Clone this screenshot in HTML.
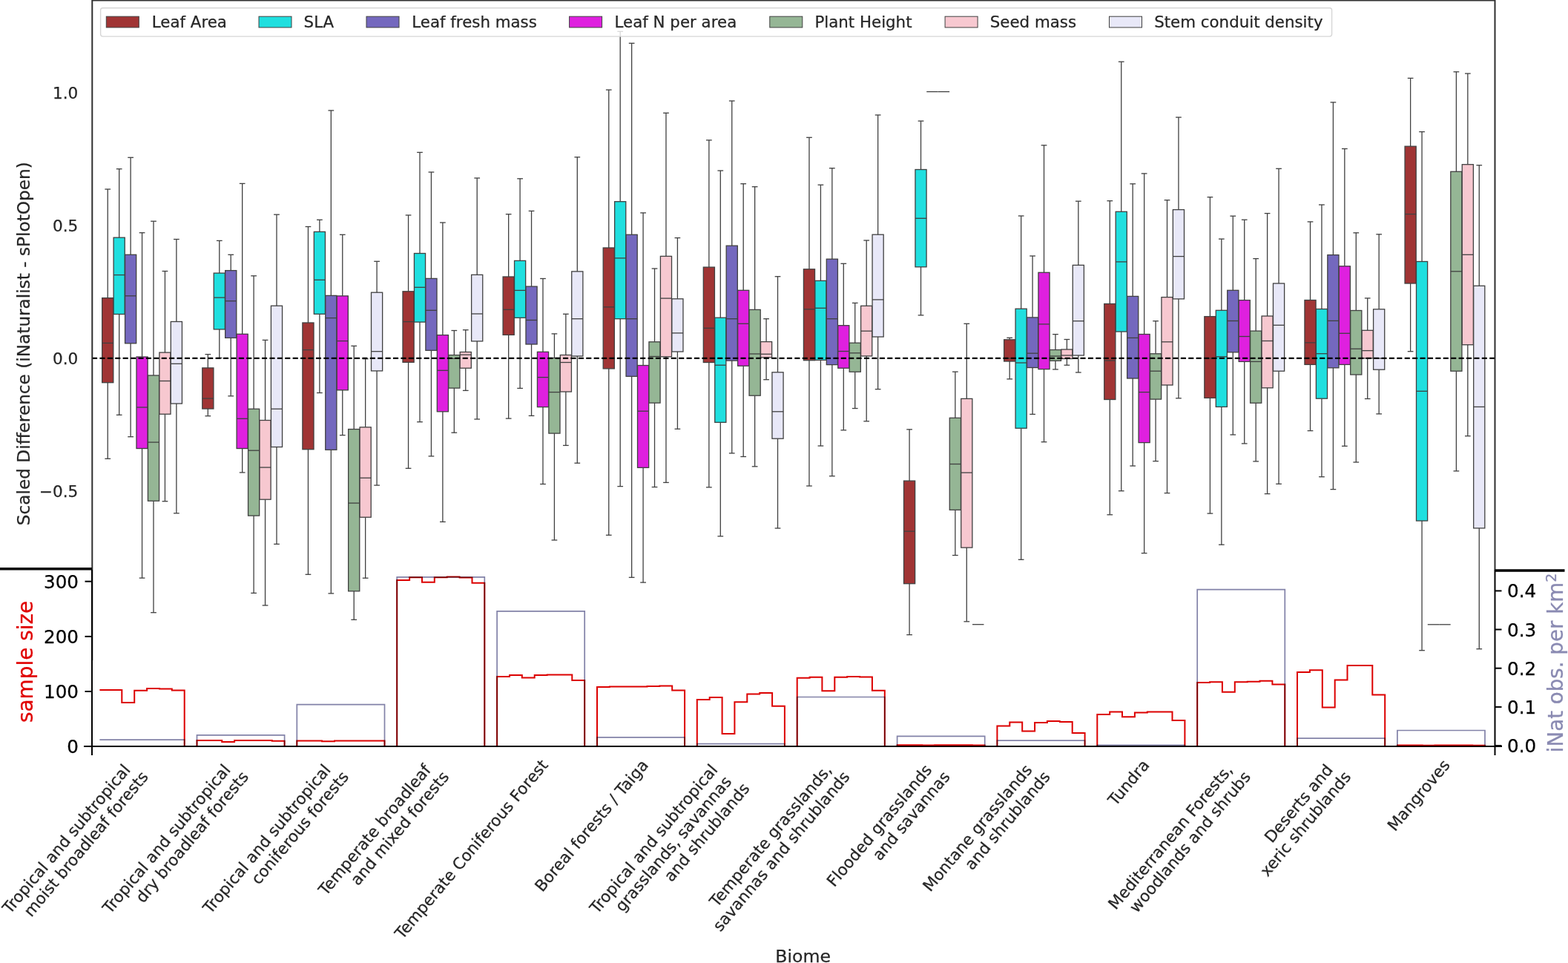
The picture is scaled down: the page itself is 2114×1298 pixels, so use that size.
<!DOCTYPE html>
<html><head><meta charset="utf-8"><title>Scaled Difference by Biome</title>
<style>html,body{margin:0;padding:0;background:#fff;} svg{display:block;} text{stroke-width:0.25px;}</style>
</head><body>
<svg width="2114" height="1298" viewBox="0 0 2114 1298">
<rect x="0" y="0" width="2114" height="1298" fill="#ffffff"/>
<path d="M134.4,930.0 L147.5,930.0 L147.5,930.0 L164.3,930.0 L164.3,947.0 L181.2,947.0 L181.2,930.8 L198.1,930.8 L198.1,927.9 L215.0,927.9 L215.0,928.5 L231.8,928.5 L231.8,930.6 L248.7,930.6 L248.7,1006.0 L265.5,1006.0 L265.5,998.0 L282.3,998.0 L282.3,998.0 L299.2,998.0 L299.2,1000.0 L316.1,1000.0 L316.1,998.0 L333.0,998.0 L333.0,998.0 L349.8,998.0 L349.8,998.0 L366.7,998.0 L366.7,998.7 L383.6,998.7 L383.6,1006.0 L400.3,1006.0 L400.3,998.4 L417.2,998.4 L417.2,998.4 L434.1,998.4 L434.1,999.3 L451.0,999.3 L451.0,998.4 L467.8,998.4 L467.8,998.4 L484.7,998.4 L484.7,998.4 L501.6,998.4 L501.6,998.4 L518.5,998.4 L518.5,1006.0 L535.2,1006.0 L535.2,782.1 L552.1,782.1 L552.1,778.2 L569.0,778.2 L569.0,784.8 L585.8,784.8 L585.8,778.2 L602.7,778.2 L602.7,777.6 L619.6,777.6 L619.6,778.6 L636.5,778.6 L636.5,785.8 L653.3,785.8 L653.3,1006.0 L670.1,1006.0 L670.1,912.0 L687.0,912.0 L687.0,910.1 L703.8,910.1 L703.8,913.4 L720.7,913.4 L720.7,910.1 L737.6,910.1 L737.6,909.5 L754.5,909.5 L754.5,909.5 L771.3,909.5 L771.3,916.9 L788.2,916.9 L788.2,1006.0 L805.0,1006.0 L805.0,926.0 L821.8,926.0 L821.8,925.4 L838.7,925.4 L838.7,925.6 L855.6,925.6 L855.6,925.6 L872.5,925.6 L872.5,925.0 L889.3,925.0 L889.3,924.6 L906.2,924.6 L906.2,930.4 L923.1,930.4 L923.1,1006.0 L939.8,1006.0 L939.8,943.0 L956.7,943.0 L956.7,939.9 L973.6,939.9 L973.6,989.0 L990.4,989.0 L990.4,946.3 L1007.3,946.3 L1007.3,935.6 L1024.2,935.6 L1024.2,934.1 L1041.1,934.1 L1041.1,951.7 L1057.9,951.7 L1057.9,1006.0 L1074.7,1006.0 L1074.7,913.7 L1091.6,913.7 L1091.6,912.8 L1108.4,912.8 L1108.4,931.2 L1125.3,931.2 L1125.3,912.8 L1142.2,912.8 L1142.2,912.0 L1159.1,912.0 L1159.1,912.4 L1175.9,912.4 L1175.9,930.8 L1192.8,930.8 L1192.8,1006.0 L1209.6,1006.0 L1209.6,1004.3 L1226.4,1004.3 L1226.4,1004.3 L1243.3,1004.3 L1243.3,1004.6 L1260.2,1004.6 L1260.2,1004.3 L1277.1,1004.3 L1277.1,1004.3 L1293.9,1004.3 L1293.9,1004.3 L1310.8,1004.3 L1310.8,1004.5 L1327.7,1004.5 L1327.7,1006.0 L1344.4,1006.0 L1344.4,978.4 L1361.3,978.4 L1361.3,973.4 L1378.2,973.4 L1378.2,985.6 L1395.1,985.6 L1395.1,974.0 L1411.9,974.0 L1411.9,972.0 L1428.8,972.0 L1428.8,973.0 L1445.7,973.0 L1445.7,987.9 L1462.6,987.9 L1462.6,1006.0 L1479.3,1006.0 L1479.3,962.9 L1496.2,962.9 L1496.2,959.4 L1513.0,959.4 L1513.0,966.2 L1529.9,966.2 L1529.9,960.4 L1546.8,960.4 L1546.8,959.4 L1563.7,959.4 L1563.7,959.4 L1580.5,959.4 L1580.5,971.0 L1597.4,971.0 L1597.4,1006.0 L1614.2,1006.0 L1614.2,920.0 L1631.0,920.0 L1631.0,919.3 L1647.9,919.3 L1647.9,932.8 L1664.8,932.8 L1664.8,919.3 L1681.7,919.3 L1681.7,918.7 L1698.5,918.7 L1698.5,917.7 L1715.4,917.7 L1715.4,922.6 L1732.3,922.6 L1732.3,1006.0 L1749.0,1006.0 L1749.0,905.9 L1765.9,905.9 L1765.9,903.2 L1782.8,903.2 L1782.8,953.4 L1799.7,953.4 L1799.7,916.6 L1816.5,916.6 L1816.5,897.0 L1833.4,897.0 L1833.4,897.0 L1850.3,897.0 L1850.3,936.5 L1867.2,936.5 L1867.2,1006.0 L1883.9,1006.0 L1883.9,1004.5 L1900.8,1004.5 L1900.8,1004.5 L1917.7,1004.5 L1917.7,1004.8 L1934.5,1004.8 L1934.5,1004.5 L1951.4,1004.5 L1951.4,1004.5 L1968.3,1004.5 L1968.3,1004.5 L1985.2,1004.5 L1985.2,1004.7 L2002.0,1004.7 L2002.0,1006.0 L2015.5,1006.0" fill="none" stroke="#dc0000" stroke-width="2" stroke-linejoin="miter"/>
<path d="M134.4,997.1 L248.7,997.1 L248.7,1006.0 L265.5,1006.0 L265.5,990.8 L383.6,990.8 L383.6,1006.0 L400.3,1006.0 L400.3,949.7 L518.5,949.7 L518.5,1006.0 L535.2,1006.0 L535.2,777.8 L653.3,777.8 L653.3,1006.0 L670.1,1006.0 L670.1,823.8 L788.2,823.8 L788.2,1006.0 L805.0,1006.0 L805.0,993.9 L923.1,993.9 L923.1,1006.0 L939.8,1006.0 L939.8,1002.6 L1057.9,1002.6 L1057.9,1006.0 L1074.7,1006.0 L1074.7,939.5 L1192.8,939.5 L1192.8,1006.0 L1209.6,1006.0 L1209.6,992.3 L1327.7,992.3 L1327.7,1006.0 L1344.4,1006.0 L1344.4,998.2 L1462.6,998.2 L1462.6,1006.0 L1479.3,1006.0 L1479.3,1004.4 L1597.4,1004.4 L1597.4,1006.0 L1614.2,1006.0 L1614.2,794.6 L1732.3,794.6 L1732.3,1006.0 L1749.0,1006.0 L1749.0,995.1 L1867.2,995.1 L1867.2,1006.0 L1883.9,1006.0 L1883.9,984.5 L2002.0,984.5 L2002.0,1006.0 L2015.5,1006.0" fill="none" stroke="#8282a8" stroke-width="1.7" style="mix-blend-mode:multiply" stroke-linejoin="miter"/>
<line x1="145.23" y1="255.0" x2="145.23" y2="401.6" stroke="#404040" stroke-width="1.3"/>
<line x1="145.23" y1="515.7" x2="145.23" y2="618.3" stroke="#404040" stroke-width="1.3"/>
<line x1="141.37" y1="255.0" x2="149.09" y2="255.0" stroke="#404040" stroke-width="1.3"/>
<line x1="141.37" y1="618.3" x2="149.09" y2="618.3" stroke="#404040" stroke-width="1.3"/>
<rect x="137.67" y="401.6" width="15.13" height="114.10" fill="#a03434" stroke="#404040" stroke-width="1.3"/>
<line x1="137.67" y1="462.4" x2="152.80" y2="462.4" stroke="#404040" stroke-width="1.3"/>
<line x1="160.67" y1="227.7" x2="160.67" y2="320.2" stroke="#404040" stroke-width="1.3"/>
<line x1="160.67" y1="423.5" x2="160.67" y2="559.3" stroke="#404040" stroke-width="1.3"/>
<line x1="156.81" y1="227.7" x2="164.53" y2="227.7" stroke="#404040" stroke-width="1.3"/>
<line x1="156.81" y1="559.3" x2="164.53" y2="559.3" stroke="#404040" stroke-width="1.3"/>
<rect x="153.11" y="320.2" width="15.13" height="103.30" fill="#20dfdf" stroke="#404040" stroke-width="1.3"/>
<line x1="153.11" y1="370.6" x2="168.24" y2="370.6" stroke="#404040" stroke-width="1.3"/>
<line x1="176.11" y1="212.3" x2="176.11" y2="343.3" stroke="#404040" stroke-width="1.3"/>
<line x1="176.11" y1="462.8" x2="176.11" y2="588.7" stroke="#404040" stroke-width="1.3"/>
<line x1="172.25" y1="212.3" x2="179.97" y2="212.3" stroke="#404040" stroke-width="1.3"/>
<line x1="172.25" y1="588.7" x2="179.97" y2="588.7" stroke="#404040" stroke-width="1.3"/>
<rect x="168.55" y="343.3" width="15.13" height="119.50" fill="#7468be" stroke="#404040" stroke-width="1.3"/>
<line x1="168.55" y1="398.8" x2="183.68" y2="398.8" stroke="#404040" stroke-width="1.3"/>
<line x1="191.55" y1="313.7" x2="191.55" y2="481.0" stroke="#404040" stroke-width="1.3"/>
<line x1="191.55" y1="604.5" x2="191.55" y2="779.1" stroke="#404040" stroke-width="1.3"/>
<line x1="187.69" y1="313.7" x2="195.41" y2="313.7" stroke="#404040" stroke-width="1.3"/>
<line x1="187.69" y1="779.1" x2="195.41" y2="779.1" stroke="#404040" stroke-width="1.3"/>
<rect x="183.99" y="481.0" width="15.13" height="123.50" fill="#df20df" stroke="#404040" stroke-width="1.3"/>
<line x1="183.99" y1="549.0" x2="199.12" y2="549.0" stroke="#404040" stroke-width="1.3"/>
<line x1="206.99" y1="298.2" x2="206.99" y2="506.0" stroke="#404040" stroke-width="1.3"/>
<line x1="206.99" y1="675.2" x2="206.99" y2="825.7" stroke="#404040" stroke-width="1.3"/>
<line x1="203.13" y1="298.2" x2="210.85" y2="298.2" stroke="#404040" stroke-width="1.3"/>
<line x1="203.13" y1="825.7" x2="210.85" y2="825.7" stroke="#404040" stroke-width="1.3"/>
<rect x="199.43" y="506.0" width="15.13" height="169.20" fill="#95b695" stroke="#404040" stroke-width="1.3"/>
<line x1="199.43" y1="596.1" x2="214.56" y2="596.1" stroke="#404040" stroke-width="1.3"/>
<line x1="222.44" y1="365.5" x2="222.44" y2="475.1" stroke="#404040" stroke-width="1.3"/>
<line x1="222.44" y1="558.2" x2="222.44" y2="675.7" stroke="#404040" stroke-width="1.3"/>
<line x1="218.58" y1="365.5" x2="226.30" y2="365.5" stroke="#404040" stroke-width="1.3"/>
<line x1="218.58" y1="675.7" x2="226.30" y2="675.7" stroke="#404040" stroke-width="1.3"/>
<rect x="214.87" y="475.1" width="15.13" height="83.10" fill="#f7c8d0" stroke="#404040" stroke-width="1.3"/>
<line x1="214.87" y1="513.5" x2="230.00" y2="513.5" stroke="#404040" stroke-width="1.3"/>
<line x1="237.88" y1="322.5" x2="237.88" y2="433.5" stroke="#404040" stroke-width="1.3"/>
<line x1="237.88" y1="544.0" x2="237.88" y2="691.8" stroke="#404040" stroke-width="1.3"/>
<line x1="234.02" y1="322.5" x2="241.74" y2="322.5" stroke="#404040" stroke-width="1.3"/>
<line x1="234.02" y1="691.8" x2="241.74" y2="691.8" stroke="#404040" stroke-width="1.3"/>
<rect x="230.31" y="433.5" width="15.13" height="110.50" fill="#e8e8f8" stroke="#404040" stroke-width="1.3"/>
<line x1="230.31" y1="490.3" x2="245.44" y2="490.3" stroke="#404040" stroke-width="1.3"/>
<line x1="280.34" y1="477.6" x2="280.34" y2="495.9" stroke="#404040" stroke-width="1.3"/>
<line x1="280.34" y1="551.0" x2="280.34" y2="560.7" stroke="#404040" stroke-width="1.3"/>
<line x1="276.48" y1="477.6" x2="284.20" y2="477.6" stroke="#404040" stroke-width="1.3"/>
<line x1="276.48" y1="560.7" x2="284.20" y2="560.7" stroke="#404040" stroke-width="1.3"/>
<rect x="272.77" y="495.9" width="15.13" height="55.10" fill="#a03434" stroke="#404040" stroke-width="1.3"/>
<line x1="272.77" y1="537.1" x2="287.90" y2="537.1" stroke="#404040" stroke-width="1.3"/>
<line x1="295.78" y1="324.4" x2="295.78" y2="368.1" stroke="#404040" stroke-width="1.3"/>
<line x1="295.78" y1="443.9" x2="295.78" y2="482.5" stroke="#404040" stroke-width="1.3"/>
<line x1="291.92" y1="324.4" x2="299.64" y2="324.4" stroke="#404040" stroke-width="1.3"/>
<line x1="291.92" y1="482.5" x2="299.64" y2="482.5" stroke="#404040" stroke-width="1.3"/>
<rect x="288.21" y="368.1" width="15.13" height="75.80" fill="#20dfdf" stroke="#404040" stroke-width="1.3"/>
<line x1="288.21" y1="401.1" x2="303.35" y2="401.1" stroke="#404040" stroke-width="1.3"/>
<line x1="311.22" y1="343.3" x2="311.22" y2="364.6" stroke="#404040" stroke-width="1.3"/>
<line x1="311.22" y1="455.4" x2="311.22" y2="533.8" stroke="#404040" stroke-width="1.3"/>
<line x1="307.36" y1="343.3" x2="315.08" y2="343.3" stroke="#404040" stroke-width="1.3"/>
<line x1="307.36" y1="533.8" x2="315.08" y2="533.8" stroke="#404040" stroke-width="1.3"/>
<rect x="303.65" y="364.6" width="15.13" height="90.80" fill="#7468be" stroke="#404040" stroke-width="1.3"/>
<line x1="303.65" y1="405.7" x2="318.79" y2="405.7" stroke="#404040" stroke-width="1.3"/>
<line x1="326.66" y1="247.4" x2="326.66" y2="450.3" stroke="#404040" stroke-width="1.3"/>
<line x1="326.66" y1="604.5" x2="326.66" y2="636.9" stroke="#404040" stroke-width="1.3"/>
<line x1="322.80" y1="247.4" x2="330.52" y2="247.4" stroke="#404040" stroke-width="1.3"/>
<line x1="322.80" y1="636.9" x2="330.52" y2="636.9" stroke="#404040" stroke-width="1.3"/>
<rect x="319.09" y="450.3" width="15.13" height="154.20" fill="#df20df" stroke="#404040" stroke-width="1.3"/>
<line x1="319.09" y1="564.3" x2="334.23" y2="564.3" stroke="#404040" stroke-width="1.3"/>
<line x1="342.10" y1="371.8" x2="342.10" y2="551.2" stroke="#404040" stroke-width="1.3"/>
<line x1="342.10" y1="695.1" x2="342.10" y2="799.4" stroke="#404040" stroke-width="1.3"/>
<line x1="338.24" y1="371.8" x2="345.96" y2="371.8" stroke="#404040" stroke-width="1.3"/>
<line x1="338.24" y1="799.4" x2="345.96" y2="799.4" stroke="#404040" stroke-width="1.3"/>
<rect x="334.54" y="551.2" width="15.13" height="143.90" fill="#95b695" stroke="#404040" stroke-width="1.3"/>
<line x1="334.54" y1="607.2" x2="349.67" y2="607.2" stroke="#404040" stroke-width="1.3"/>
<line x1="357.54" y1="458.4" x2="357.54" y2="566.5" stroke="#404040" stroke-width="1.3"/>
<line x1="357.54" y1="673.2" x2="357.54" y2="816.0" stroke="#404040" stroke-width="1.3"/>
<line x1="353.68" y1="458.4" x2="361.40" y2="458.4" stroke="#404040" stroke-width="1.3"/>
<line x1="353.68" y1="816.0" x2="361.40" y2="816.0" stroke="#404040" stroke-width="1.3"/>
<rect x="349.98" y="566.5" width="15.13" height="106.70" fill="#f7c8d0" stroke="#404040" stroke-width="1.3"/>
<line x1="349.98" y1="630.0" x2="365.11" y2="630.0" stroke="#404040" stroke-width="1.3"/>
<line x1="372.98" y1="289.2" x2="372.98" y2="412.2" stroke="#404040" stroke-width="1.3"/>
<line x1="372.98" y1="602.5" x2="372.98" y2="733.4" stroke="#404040" stroke-width="1.3"/>
<line x1="369.12" y1="289.2" x2="376.84" y2="289.2" stroke="#404040" stroke-width="1.3"/>
<line x1="369.12" y1="733.4" x2="376.84" y2="733.4" stroke="#404040" stroke-width="1.3"/>
<rect x="365.42" y="412.2" width="15.13" height="190.30" fill="#e8e8f8" stroke="#404040" stroke-width="1.3"/>
<line x1="365.42" y1="551.2" x2="380.55" y2="551.2" stroke="#404040" stroke-width="1.3"/>
<line x1="415.45" y1="305.5" x2="415.45" y2="435.0" stroke="#404040" stroke-width="1.3"/>
<line x1="415.45" y1="605.7" x2="415.45" y2="774.3" stroke="#404040" stroke-width="1.3"/>
<line x1="411.59" y1="305.5" x2="419.31" y2="305.5" stroke="#404040" stroke-width="1.3"/>
<line x1="411.59" y1="774.3" x2="419.31" y2="774.3" stroke="#404040" stroke-width="1.3"/>
<rect x="407.88" y="435.0" width="15.13" height="170.70" fill="#a03434" stroke="#404040" stroke-width="1.3"/>
<line x1="407.88" y1="471.6" x2="423.01" y2="471.6" stroke="#404040" stroke-width="1.3"/>
<line x1="430.89" y1="296.3" x2="430.89" y2="312.4" stroke="#404040" stroke-width="1.3"/>
<line x1="430.89" y1="423.3" x2="430.89" y2="529.5" stroke="#404040" stroke-width="1.3"/>
<line x1="427.03" y1="296.3" x2="434.75" y2="296.3" stroke="#404040" stroke-width="1.3"/>
<line x1="427.03" y1="529.5" x2="434.75" y2="529.5" stroke="#404040" stroke-width="1.3"/>
<rect x="423.32" y="312.4" width="15.13" height="110.90" fill="#20dfdf" stroke="#404040" stroke-width="1.3"/>
<line x1="423.32" y1="377.3" x2="438.45" y2="377.3" stroke="#404040" stroke-width="1.3"/>
<line x1="446.33" y1="148.9" x2="446.33" y2="398.4" stroke="#404040" stroke-width="1.3"/>
<line x1="446.33" y1="606.3" x2="446.33" y2="799.9" stroke="#404040" stroke-width="1.3"/>
<line x1="442.47" y1="148.9" x2="450.19" y2="148.9" stroke="#404040" stroke-width="1.3"/>
<line x1="442.47" y1="799.9" x2="450.19" y2="799.9" stroke="#404040" stroke-width="1.3"/>
<rect x="438.76" y="398.4" width="15.13" height="207.90" fill="#7468be" stroke="#404040" stroke-width="1.3"/>
<line x1="438.76" y1="428.6" x2="453.89" y2="428.6" stroke="#404040" stroke-width="1.3"/>
<line x1="461.77" y1="316.3" x2="461.77" y2="398.9" stroke="#404040" stroke-width="1.3"/>
<line x1="461.77" y1="525.8" x2="461.77" y2="586.6" stroke="#404040" stroke-width="1.3"/>
<line x1="457.91" y1="316.3" x2="465.63" y2="316.3" stroke="#404040" stroke-width="1.3"/>
<line x1="457.91" y1="586.6" x2="465.63" y2="586.6" stroke="#404040" stroke-width="1.3"/>
<rect x="454.20" y="398.9" width="15.13" height="126.90" fill="#df20df" stroke="#404040" stroke-width="1.3"/>
<line x1="454.20" y1="459.6" x2="469.33" y2="459.6" stroke="#404040" stroke-width="1.3"/>
<line x1="477.21" y1="466.3" x2="477.21" y2="578.5" stroke="#404040" stroke-width="1.3"/>
<line x1="477.21" y1="796.8" x2="477.21" y2="835.3" stroke="#404040" stroke-width="1.3"/>
<line x1="473.35" y1="466.3" x2="481.07" y2="466.3" stroke="#404040" stroke-width="1.3"/>
<line x1="473.35" y1="835.3" x2="481.07" y2="835.3" stroke="#404040" stroke-width="1.3"/>
<rect x="469.64" y="578.5" width="15.13" height="218.30" fill="#95b695" stroke="#404040" stroke-width="1.3"/>
<line x1="469.64" y1="678.1" x2="484.77" y2="678.1" stroke="#404040" stroke-width="1.3"/>
<line x1="492.65" y1="483.7" x2="492.65" y2="575.8" stroke="#404040" stroke-width="1.3"/>
<line x1="492.65" y1="697.2" x2="492.65" y2="779.2" stroke="#404040" stroke-width="1.3"/>
<line x1="488.79" y1="483.7" x2="496.51" y2="483.7" stroke="#404040" stroke-width="1.3"/>
<line x1="488.79" y1="779.2" x2="496.51" y2="779.2" stroke="#404040" stroke-width="1.3"/>
<rect x="485.08" y="575.8" width="15.13" height="121.40" fill="#f7c8d0" stroke="#404040" stroke-width="1.3"/>
<line x1="485.08" y1="644.2" x2="500.22" y2="644.2" stroke="#404040" stroke-width="1.3"/>
<line x1="508.09" y1="352.3" x2="508.09" y2="394.2" stroke="#404040" stroke-width="1.3"/>
<line x1="508.09" y1="499.9" x2="508.09" y2="654.1" stroke="#404040" stroke-width="1.3"/>
<line x1="504.23" y1="352.3" x2="511.95" y2="352.3" stroke="#404040" stroke-width="1.3"/>
<line x1="504.23" y1="654.1" x2="511.95" y2="654.1" stroke="#404040" stroke-width="1.3"/>
<rect x="500.52" y="394.2" width="15.13" height="105.70" fill="#e8e8f8" stroke="#404040" stroke-width="1.3"/>
<line x1="500.52" y1="473.7" x2="515.66" y2="473.7" stroke="#404040" stroke-width="1.3"/>
<line x1="550.55" y1="290.0" x2="550.55" y2="392.8" stroke="#404040" stroke-width="1.3"/>
<line x1="550.55" y1="488.3" x2="550.55" y2="631.3" stroke="#404040" stroke-width="1.3"/>
<line x1="546.69" y1="290.0" x2="554.41" y2="290.0" stroke="#404040" stroke-width="1.3"/>
<line x1="546.69" y1="631.3" x2="554.41" y2="631.3" stroke="#404040" stroke-width="1.3"/>
<rect x="542.99" y="392.8" width="15.13" height="95.50" fill="#a03434" stroke="#404040" stroke-width="1.3"/>
<line x1="542.99" y1="433.6" x2="558.12" y2="433.6" stroke="#404040" stroke-width="1.3"/>
<line x1="565.99" y1="205.4" x2="565.99" y2="341.5" stroke="#404040" stroke-width="1.3"/>
<line x1="565.99" y1="434.1" x2="565.99" y2="568.7" stroke="#404040" stroke-width="1.3"/>
<line x1="562.13" y1="205.4" x2="569.85" y2="205.4" stroke="#404040" stroke-width="1.3"/>
<line x1="562.13" y1="568.7" x2="569.85" y2="568.7" stroke="#404040" stroke-width="1.3"/>
<rect x="558.43" y="341.5" width="15.13" height="92.60" fill="#20dfdf" stroke="#404040" stroke-width="1.3"/>
<line x1="558.43" y1="387.3" x2="573.56" y2="387.3" stroke="#404040" stroke-width="1.3"/>
<line x1="581.43" y1="232.0" x2="581.43" y2="375.4" stroke="#404040" stroke-width="1.3"/>
<line x1="581.43" y1="472.3" x2="581.43" y2="614.9" stroke="#404040" stroke-width="1.3"/>
<line x1="577.57" y1="232.0" x2="585.29" y2="232.0" stroke="#404040" stroke-width="1.3"/>
<line x1="577.57" y1="614.9" x2="585.29" y2="614.9" stroke="#404040" stroke-width="1.3"/>
<rect x="573.87" y="375.4" width="15.13" height="96.90" fill="#7468be" stroke="#404040" stroke-width="1.3"/>
<line x1="573.87" y1="418.3" x2="589.00" y2="418.3" stroke="#404040" stroke-width="1.3"/>
<line x1="596.88" y1="300.0" x2="596.88" y2="451.6" stroke="#404040" stroke-width="1.3"/>
<line x1="596.88" y1="554.8" x2="596.88" y2="703.4" stroke="#404040" stroke-width="1.3"/>
<line x1="593.01" y1="300.0" x2="600.74" y2="300.0" stroke="#404040" stroke-width="1.3"/>
<line x1="593.01" y1="703.4" x2="600.74" y2="703.4" stroke="#404040" stroke-width="1.3"/>
<rect x="589.31" y="451.6" width="15.13" height="103.20" fill="#df20df" stroke="#404040" stroke-width="1.3"/>
<line x1="589.31" y1="499.3" x2="604.44" y2="499.3" stroke="#404040" stroke-width="1.3"/>
<line x1="612.32" y1="445.5" x2="612.32" y2="478.6" stroke="#404040" stroke-width="1.3"/>
<line x1="612.32" y1="523.1" x2="612.32" y2="583.2" stroke="#404040" stroke-width="1.3"/>
<line x1="608.46" y1="445.5" x2="616.18" y2="445.5" stroke="#404040" stroke-width="1.3"/>
<line x1="608.46" y1="583.2" x2="616.18" y2="583.2" stroke="#404040" stroke-width="1.3"/>
<rect x="604.75" y="478.6" width="15.13" height="44.50" fill="#95b695" stroke="#404040" stroke-width="1.3"/>
<line x1="604.75" y1="483.3" x2="619.88" y2="483.3" stroke="#404040" stroke-width="1.3"/>
<line x1="627.76" y1="444.7" x2="627.76" y2="474.5" stroke="#404040" stroke-width="1.3"/>
<line x1="627.76" y1="496.2" x2="627.76" y2="526.4" stroke="#404040" stroke-width="1.3"/>
<line x1="623.90" y1="444.7" x2="631.62" y2="444.7" stroke="#404040" stroke-width="1.3"/>
<line x1="623.90" y1="526.4" x2="631.62" y2="526.4" stroke="#404040" stroke-width="1.3"/>
<rect x="620.19" y="474.5" width="15.13" height="21.70" fill="#f7c8d0" stroke="#404040" stroke-width="1.3"/>
<line x1="620.19" y1="478.2" x2="635.32" y2="478.2" stroke="#404040" stroke-width="1.3"/>
<line x1="643.20" y1="240.0" x2="643.20" y2="370.4" stroke="#404040" stroke-width="1.3"/>
<line x1="643.20" y1="459.9" x2="643.20" y2="565.0" stroke="#404040" stroke-width="1.3"/>
<line x1="639.34" y1="240.0" x2="647.06" y2="240.0" stroke="#404040" stroke-width="1.3"/>
<line x1="639.34" y1="565.0" x2="647.06" y2="565.0" stroke="#404040" stroke-width="1.3"/>
<rect x="635.63" y="370.4" width="15.13" height="89.50" fill="#e8e8f8" stroke="#404040" stroke-width="1.3"/>
<line x1="635.63" y1="423.0" x2="650.76" y2="423.0" stroke="#404040" stroke-width="1.3"/>
<line x1="685.66" y1="288.7" x2="685.66" y2="373.0" stroke="#404040" stroke-width="1.3"/>
<line x1="685.66" y1="451.4" x2="685.66" y2="564.1" stroke="#404040" stroke-width="1.3"/>
<line x1="681.80" y1="288.7" x2="689.52" y2="288.7" stroke="#404040" stroke-width="1.3"/>
<line x1="681.80" y1="564.1" x2="689.52" y2="564.1" stroke="#404040" stroke-width="1.3"/>
<rect x="678.09" y="373.0" width="15.13" height="78.40" fill="#a03434" stroke="#404040" stroke-width="1.3"/>
<line x1="678.09" y1="417.3" x2="693.23" y2="417.3" stroke="#404040" stroke-width="1.3"/>
<line x1="701.10" y1="240.8" x2="701.10" y2="351.4" stroke="#404040" stroke-width="1.3"/>
<line x1="701.10" y1="428.3" x2="701.10" y2="523.4" stroke="#404040" stroke-width="1.3"/>
<line x1="697.24" y1="240.8" x2="704.96" y2="240.8" stroke="#404040" stroke-width="1.3"/>
<line x1="697.24" y1="523.4" x2="704.96" y2="523.4" stroke="#404040" stroke-width="1.3"/>
<rect x="693.53" y="351.4" width="15.13" height="76.90" fill="#20dfdf" stroke="#404040" stroke-width="1.3"/>
<line x1="693.53" y1="391.4" x2="708.67" y2="391.4" stroke="#404040" stroke-width="1.3"/>
<line x1="716.54" y1="284.4" x2="716.54" y2="386.1" stroke="#404040" stroke-width="1.3"/>
<line x1="716.54" y1="464.0" x2="716.54" y2="560.4" stroke="#404040" stroke-width="1.3"/>
<line x1="712.68" y1="284.4" x2="720.40" y2="284.4" stroke="#404040" stroke-width="1.3"/>
<line x1="712.68" y1="560.4" x2="720.40" y2="560.4" stroke="#404040" stroke-width="1.3"/>
<rect x="708.98" y="386.1" width="15.13" height="77.90" fill="#7468be" stroke="#404040" stroke-width="1.3"/>
<line x1="708.98" y1="431.5" x2="724.11" y2="431.5" stroke="#404040" stroke-width="1.3"/>
<line x1="731.98" y1="375.5" x2="731.98" y2="474.3" stroke="#404040" stroke-width="1.3"/>
<line x1="731.98" y1="548.6" x2="731.98" y2="652.5" stroke="#404040" stroke-width="1.3"/>
<line x1="728.12" y1="375.5" x2="735.84" y2="375.5" stroke="#404040" stroke-width="1.3"/>
<line x1="728.12" y1="652.5" x2="735.84" y2="652.5" stroke="#404040" stroke-width="1.3"/>
<rect x="724.42" y="474.3" width="15.13" height="74.30" fill="#df20df" stroke="#404040" stroke-width="1.3"/>
<line x1="724.42" y1="508.6" x2="739.55" y2="508.6" stroke="#404040" stroke-width="1.3"/>
<line x1="747.42" y1="449.9" x2="747.42" y2="482.5" stroke="#404040" stroke-width="1.3"/>
<line x1="747.42" y1="584.1" x2="747.42" y2="728.0" stroke="#404040" stroke-width="1.3"/>
<line x1="743.56" y1="449.9" x2="751.28" y2="449.9" stroke="#404040" stroke-width="1.3"/>
<line x1="743.56" y1="728.0" x2="751.28" y2="728.0" stroke="#404040" stroke-width="1.3"/>
<rect x="739.86" y="482.5" width="15.13" height="101.60" fill="#95b695" stroke="#404040" stroke-width="1.3"/>
<line x1="739.86" y1="528.6" x2="754.99" y2="528.6" stroke="#404040" stroke-width="1.3"/>
<line x1="762.86" y1="423.3" x2="762.86" y2="478.5" stroke="#404040" stroke-width="1.3"/>
<line x1="762.86" y1="528.0" x2="762.86" y2="600.4" stroke="#404040" stroke-width="1.3"/>
<line x1="759.00" y1="423.3" x2="766.72" y2="423.3" stroke="#404040" stroke-width="1.3"/>
<line x1="759.00" y1="600.4" x2="766.72" y2="600.4" stroke="#404040" stroke-width="1.3"/>
<rect x="755.30" y="478.5" width="15.13" height="49.50" fill="#f7c8d0" stroke="#404040" stroke-width="1.3"/>
<line x1="755.30" y1="488.5" x2="770.43" y2="488.5" stroke="#404040" stroke-width="1.3"/>
<line x1="778.30" y1="211.8" x2="778.30" y2="365.9" stroke="#404040" stroke-width="1.3"/>
<line x1="778.30" y1="480.0" x2="778.30" y2="624.2" stroke="#404040" stroke-width="1.3"/>
<line x1="774.44" y1="211.8" x2="782.16" y2="211.8" stroke="#404040" stroke-width="1.3"/>
<line x1="774.44" y1="624.2" x2="782.16" y2="624.2" stroke="#404040" stroke-width="1.3"/>
<rect x="770.74" y="365.9" width="15.13" height="114.10" fill="#e8e8f8" stroke="#404040" stroke-width="1.3"/>
<line x1="770.74" y1="429.7" x2="785.87" y2="429.7" stroke="#404040" stroke-width="1.3"/>
<line x1="820.77" y1="121.1" x2="820.77" y2="334.0" stroke="#404040" stroke-width="1.3"/>
<line x1="820.77" y1="496.9" x2="820.77" y2="721.3" stroke="#404040" stroke-width="1.3"/>
<line x1="816.91" y1="121.1" x2="824.63" y2="121.1" stroke="#404040" stroke-width="1.3"/>
<line x1="816.91" y1="721.3" x2="824.63" y2="721.3" stroke="#404040" stroke-width="1.3"/>
<rect x="813.20" y="334.0" width="15.13" height="162.90" fill="#a03434" stroke="#404040" stroke-width="1.3"/>
<line x1="813.20" y1="413.8" x2="828.33" y2="413.8" stroke="#404040" stroke-width="1.3"/>
<line x1="836.21" y1="42.4" x2="836.21" y2="271.7" stroke="#404040" stroke-width="1.3"/>
<line x1="836.21" y1="429.7" x2="836.21" y2="655.6" stroke="#404040" stroke-width="1.3"/>
<line x1="832.35" y1="42.4" x2="840.07" y2="42.4" stroke="#404040" stroke-width="1.3"/>
<line x1="832.35" y1="655.6" x2="840.07" y2="655.6" stroke="#404040" stroke-width="1.3"/>
<rect x="828.64" y="271.7" width="15.13" height="158.00" fill="#20dfdf" stroke="#404040" stroke-width="1.3"/>
<line x1="828.64" y1="347.9" x2="843.77" y2="347.9" stroke="#404040" stroke-width="1.3"/>
<line x1="851.65" y1="58.3" x2="851.65" y2="316.3" stroke="#404040" stroke-width="1.3"/>
<line x1="851.65" y1="507.3" x2="851.65" y2="778.3" stroke="#404040" stroke-width="1.3"/>
<line x1="847.79" y1="58.3" x2="855.51" y2="58.3" stroke="#404040" stroke-width="1.3"/>
<line x1="847.79" y1="778.3" x2="855.51" y2="778.3" stroke="#404040" stroke-width="1.3"/>
<rect x="844.08" y="316.3" width="15.13" height="191.00" fill="#7468be" stroke="#404040" stroke-width="1.3"/>
<line x1="844.08" y1="429.7" x2="859.21" y2="429.7" stroke="#404040" stroke-width="1.3"/>
<line x1="867.09" y1="286.9" x2="867.09" y2="492.5" stroke="#404040" stroke-width="1.3"/>
<line x1="867.09" y1="630.3" x2="867.09" y2="785.1" stroke="#404040" stroke-width="1.3"/>
<line x1="863.23" y1="286.9" x2="870.95" y2="286.9" stroke="#404040" stroke-width="1.3"/>
<line x1="863.23" y1="785.1" x2="870.95" y2="785.1" stroke="#404040" stroke-width="1.3"/>
<rect x="859.52" y="492.5" width="15.13" height="137.80" fill="#df20df" stroke="#404040" stroke-width="1.3"/>
<line x1="859.52" y1="554.2" x2="874.66" y2="554.2" stroke="#404040" stroke-width="1.3"/>
<line x1="882.53" y1="362.0" x2="882.53" y2="460.8" stroke="#404040" stroke-width="1.3"/>
<line x1="882.53" y1="543.1" x2="882.53" y2="656.5" stroke="#404040" stroke-width="1.3"/>
<line x1="878.67" y1="362.0" x2="886.39" y2="362.0" stroke="#404040" stroke-width="1.3"/>
<line x1="878.67" y1="656.5" x2="886.39" y2="656.5" stroke="#404040" stroke-width="1.3"/>
<rect x="874.96" y="460.8" width="15.13" height="82.30" fill="#95b695" stroke="#404040" stroke-width="1.3"/>
<line x1="874.96" y1="480.5" x2="890.10" y2="480.5" stroke="#404040" stroke-width="1.3"/>
<line x1="897.97" y1="152.3" x2="897.97" y2="345.4" stroke="#404040" stroke-width="1.3"/>
<line x1="897.97" y1="480.8" x2="897.97" y2="650.4" stroke="#404040" stroke-width="1.3"/>
<line x1="894.11" y1="152.3" x2="901.83" y2="152.3" stroke="#404040" stroke-width="1.3"/>
<line x1="894.11" y1="650.4" x2="901.83" y2="650.4" stroke="#404040" stroke-width="1.3"/>
<rect x="890.40" y="345.4" width="15.13" height="135.40" fill="#f7c8d0" stroke="#404040" stroke-width="1.3"/>
<line x1="890.40" y1="402.1" x2="905.54" y2="402.1" stroke="#404040" stroke-width="1.3"/>
<line x1="913.41" y1="320.6" x2="913.41" y2="402.8" stroke="#404040" stroke-width="1.3"/>
<line x1="913.41" y1="474.0" x2="913.41" y2="578.2" stroke="#404040" stroke-width="1.3"/>
<line x1="909.55" y1="320.6" x2="917.27" y2="320.6" stroke="#404040" stroke-width="1.3"/>
<line x1="909.55" y1="578.2" x2="917.27" y2="578.2" stroke="#404040" stroke-width="1.3"/>
<rect x="905.85" y="402.8" width="15.13" height="71.20" fill="#e8e8f8" stroke="#404040" stroke-width="1.3"/>
<line x1="905.85" y1="448.9" x2="920.98" y2="448.9" stroke="#404040" stroke-width="1.3"/>
<line x1="955.87" y1="188.9" x2="955.87" y2="360.1" stroke="#404040" stroke-width="1.3"/>
<line x1="955.87" y1="488.5" x2="955.87" y2="656.8" stroke="#404040" stroke-width="1.3"/>
<line x1="952.01" y1="188.9" x2="959.73" y2="188.9" stroke="#404040" stroke-width="1.3"/>
<line x1="952.01" y1="656.8" x2="959.73" y2="656.8" stroke="#404040" stroke-width="1.3"/>
<rect x="948.31" y="360.1" width="15.13" height="128.40" fill="#a03434" stroke="#404040" stroke-width="1.3"/>
<line x1="948.31" y1="442.3" x2="963.44" y2="442.3" stroke="#404040" stroke-width="1.3"/>
<line x1="971.31" y1="230.0" x2="971.31" y2="428.2" stroke="#404040" stroke-width="1.3"/>
<line x1="971.31" y1="569.3" x2="971.31" y2="722.8" stroke="#404040" stroke-width="1.3"/>
<line x1="967.45" y1="230.0" x2="975.18" y2="230.0" stroke="#404040" stroke-width="1.3"/>
<line x1="967.45" y1="722.8" x2="975.18" y2="722.8" stroke="#404040" stroke-width="1.3"/>
<rect x="963.75" y="428.2" width="15.13" height="141.10" fill="#20dfdf" stroke="#404040" stroke-width="1.3"/>
<line x1="963.75" y1="492.2" x2="978.88" y2="492.2" stroke="#404040" stroke-width="1.3"/>
<line x1="986.76" y1="136.0" x2="986.76" y2="331.2" stroke="#404040" stroke-width="1.3"/>
<line x1="986.76" y1="486.1" x2="986.76" y2="610.9" stroke="#404040" stroke-width="1.3"/>
<line x1="982.90" y1="136.0" x2="990.62" y2="136.0" stroke="#404040" stroke-width="1.3"/>
<line x1="982.90" y1="610.9" x2="990.62" y2="610.9" stroke="#404040" stroke-width="1.3"/>
<rect x="979.19" y="331.2" width="15.13" height="154.90" fill="#7468be" stroke="#404040" stroke-width="1.3"/>
<line x1="979.19" y1="429.7" x2="994.32" y2="429.7" stroke="#404040" stroke-width="1.3"/>
<line x1="1002.20" y1="247.7" x2="1002.20" y2="391.3" stroke="#404040" stroke-width="1.3"/>
<line x1="1002.20" y1="493.2" x2="1002.20" y2="615.5" stroke="#404040" stroke-width="1.3"/>
<line x1="998.34" y1="247.7" x2="1006.06" y2="247.7" stroke="#404040" stroke-width="1.3"/>
<line x1="998.34" y1="615.5" x2="1006.06" y2="615.5" stroke="#404040" stroke-width="1.3"/>
<rect x="994.63" y="391.3" width="15.13" height="101.90" fill="#df20df" stroke="#404040" stroke-width="1.3"/>
<line x1="994.63" y1="436.3" x2="1009.76" y2="436.3" stroke="#404040" stroke-width="1.3"/>
<line x1="1017.64" y1="251.7" x2="1017.64" y2="417.4" stroke="#404040" stroke-width="1.3"/>
<line x1="1017.64" y1="533.2" x2="1017.64" y2="628.8" stroke="#404040" stroke-width="1.3"/>
<line x1="1013.78" y1="251.7" x2="1021.50" y2="251.7" stroke="#404040" stroke-width="1.3"/>
<line x1="1013.78" y1="628.8" x2="1021.50" y2="628.8" stroke="#404040" stroke-width="1.3"/>
<rect x="1010.07" y="417.4" width="15.13" height="115.80" fill="#95b695" stroke="#404040" stroke-width="1.3"/>
<line x1="1010.07" y1="477.0" x2="1025.20" y2="477.0" stroke="#404040" stroke-width="1.3"/>
<line x1="1033.08" y1="429.7" x2="1033.08" y2="460.6" stroke="#404040" stroke-width="1.3"/>
<line x1="1033.08" y1="481.8" x2="1033.08" y2="511.7" stroke="#404040" stroke-width="1.3"/>
<line x1="1029.22" y1="429.7" x2="1036.94" y2="429.7" stroke="#404040" stroke-width="1.3"/>
<line x1="1029.22" y1="511.7" x2="1036.94" y2="511.7" stroke="#404040" stroke-width="1.3"/>
<rect x="1025.51" y="460.6" width="15.13" height="21.20" fill="#f7c8d0" stroke="#404040" stroke-width="1.3"/>
<line x1="1025.51" y1="477.3" x2="1040.64" y2="477.3" stroke="#404040" stroke-width="1.3"/>
<line x1="1048.52" y1="372.7" x2="1048.52" y2="501.8" stroke="#404040" stroke-width="1.3"/>
<line x1="1048.52" y1="591.2" x2="1048.52" y2="712.0" stroke="#404040" stroke-width="1.3"/>
<line x1="1044.66" y1="372.7" x2="1052.38" y2="372.7" stroke="#404040" stroke-width="1.3"/>
<line x1="1044.66" y1="712.0" x2="1052.38" y2="712.0" stroke="#404040" stroke-width="1.3"/>
<rect x="1040.95" y="501.8" width="15.13" height="89.40" fill="#e8e8f8" stroke="#404040" stroke-width="1.3"/>
<line x1="1040.95" y1="554.8" x2="1056.08" y2="554.8" stroke="#404040" stroke-width="1.3"/>
<line x1="1090.98" y1="185.3" x2="1090.98" y2="362.8" stroke="#404040" stroke-width="1.3"/>
<line x1="1090.98" y1="485.7" x2="1090.98" y2="655.0" stroke="#404040" stroke-width="1.3"/>
<line x1="1087.12" y1="185.3" x2="1094.84" y2="185.3" stroke="#404040" stroke-width="1.3"/>
<line x1="1087.12" y1="655.0" x2="1094.84" y2="655.0" stroke="#404040" stroke-width="1.3"/>
<rect x="1083.42" y="362.8" width="15.13" height="122.90" fill="#a03434" stroke="#404040" stroke-width="1.3"/>
<line x1="1083.42" y1="416.8" x2="1098.55" y2="416.8" stroke="#404040" stroke-width="1.3"/>
<line x1="1106.42" y1="249.2" x2="1106.42" y2="378.4" stroke="#404040" stroke-width="1.3"/>
<line x1="1106.42" y1="485.4" x2="1106.42" y2="601.0" stroke="#404040" stroke-width="1.3"/>
<line x1="1102.56" y1="249.2" x2="1110.28" y2="249.2" stroke="#404040" stroke-width="1.3"/>
<line x1="1102.56" y1="601.0" x2="1110.28" y2="601.0" stroke="#404040" stroke-width="1.3"/>
<rect x="1098.86" y="378.4" width="15.13" height="107.00" fill="#20dfdf" stroke="#404040" stroke-width="1.3"/>
<line x1="1098.86" y1="415.3" x2="1113.99" y2="415.3" stroke="#404040" stroke-width="1.3"/>
<line x1="1121.86" y1="226.7" x2="1121.86" y2="349.2" stroke="#404040" stroke-width="1.3"/>
<line x1="1121.86" y1="491.6" x2="1121.86" y2="641.7" stroke="#404040" stroke-width="1.3"/>
<line x1="1118.00" y1="226.7" x2="1125.72" y2="226.7" stroke="#404040" stroke-width="1.3"/>
<line x1="1118.00" y1="641.7" x2="1125.72" y2="641.7" stroke="#404040" stroke-width="1.3"/>
<rect x="1114.30" y="349.2" width="15.13" height="142.40" fill="#7468be" stroke="#404040" stroke-width="1.3"/>
<line x1="1114.30" y1="429.7" x2="1129.43" y2="429.7" stroke="#404040" stroke-width="1.3"/>
<line x1="1137.30" y1="355.3" x2="1137.30" y2="438.7" stroke="#404040" stroke-width="1.3"/>
<line x1="1137.30" y1="496.2" x2="1137.30" y2="579.8" stroke="#404040" stroke-width="1.3"/>
<line x1="1133.44" y1="355.3" x2="1141.16" y2="355.3" stroke="#404040" stroke-width="1.3"/>
<line x1="1133.44" y1="579.8" x2="1141.16" y2="579.8" stroke="#404040" stroke-width="1.3"/>
<rect x="1129.74" y="438.7" width="15.13" height="57.50" fill="#df20df" stroke="#404040" stroke-width="1.3"/>
<line x1="1129.74" y1="473.5" x2="1144.87" y2="473.5" stroke="#404040" stroke-width="1.3"/>
<line x1="1152.74" y1="408.4" x2="1152.74" y2="462.2" stroke="#404040" stroke-width="1.3"/>
<line x1="1152.74" y1="501.2" x2="1152.74" y2="550.5" stroke="#404040" stroke-width="1.3"/>
<line x1="1148.88" y1="408.4" x2="1156.60" y2="408.4" stroke="#404040" stroke-width="1.3"/>
<line x1="1148.88" y1="550.5" x2="1156.60" y2="550.5" stroke="#404040" stroke-width="1.3"/>
<rect x="1145.18" y="462.2" width="15.13" height="39.00" fill="#95b695" stroke="#404040" stroke-width="1.3"/>
<line x1="1145.18" y1="475.8" x2="1160.31" y2="475.8" stroke="#404040" stroke-width="1.3"/>
<line x1="1168.19" y1="324.0" x2="1168.19" y2="412.3" stroke="#404040" stroke-width="1.3"/>
<line x1="1168.19" y1="479.9" x2="1168.19" y2="567.8" stroke="#404040" stroke-width="1.3"/>
<line x1="1164.33" y1="324.0" x2="1172.05" y2="324.0" stroke="#404040" stroke-width="1.3"/>
<line x1="1164.33" y1="567.8" x2="1172.05" y2="567.8" stroke="#404040" stroke-width="1.3"/>
<rect x="1160.62" y="412.3" width="15.13" height="67.60" fill="#f7c8d0" stroke="#404040" stroke-width="1.3"/>
<line x1="1160.62" y1="446.2" x2="1175.75" y2="446.2" stroke="#404040" stroke-width="1.3"/>
<line x1="1183.63" y1="155.0" x2="1183.63" y2="316.2" stroke="#404040" stroke-width="1.3"/>
<line x1="1183.63" y1="454.0" x2="1183.63" y2="524.6" stroke="#404040" stroke-width="1.3"/>
<line x1="1179.77" y1="155.0" x2="1187.49" y2="155.0" stroke="#404040" stroke-width="1.3"/>
<line x1="1179.77" y1="524.6" x2="1187.49" y2="524.6" stroke="#404040" stroke-width="1.3"/>
<rect x="1176.06" y="316.2" width="15.13" height="137.80" fill="#e8e8f8" stroke="#404040" stroke-width="1.3"/>
<line x1="1176.06" y1="403.9" x2="1191.19" y2="403.9" stroke="#404040" stroke-width="1.3"/>
<line x1="1226.09" y1="578.8" x2="1226.09" y2="648.1" stroke="#404040" stroke-width="1.3"/>
<line x1="1226.09" y1="786.7" x2="1226.09" y2="855.6" stroke="#404040" stroke-width="1.3"/>
<line x1="1222.23" y1="578.8" x2="1229.95" y2="578.8" stroke="#404040" stroke-width="1.3"/>
<line x1="1222.23" y1="855.6" x2="1229.95" y2="855.6" stroke="#404040" stroke-width="1.3"/>
<rect x="1218.52" y="648.1" width="15.13" height="138.60" fill="#a03434" stroke="#404040" stroke-width="1.3"/>
<line x1="1218.52" y1="716.1" x2="1233.65" y2="716.1" stroke="#404040" stroke-width="1.3"/>
<line x1="1241.53" y1="163.1" x2="1241.53" y2="228.5" stroke="#404040" stroke-width="1.3"/>
<line x1="1241.53" y1="359.8" x2="1241.53" y2="424.9" stroke="#404040" stroke-width="1.3"/>
<line x1="1237.67" y1="163.1" x2="1245.39" y2="163.1" stroke="#404040" stroke-width="1.3"/>
<line x1="1237.67" y1="424.9" x2="1245.39" y2="424.9" stroke="#404040" stroke-width="1.3"/>
<rect x="1233.96" y="228.5" width="15.13" height="131.30" fill="#20dfdf" stroke="#404040" stroke-width="1.3"/>
<line x1="1233.96" y1="294.3" x2="1249.10" y2="294.3" stroke="#404040" stroke-width="1.3"/>
<line x1="1249.25" y1="123.6" x2="1264.69" y2="123.6" stroke="#404040" stroke-width="1.3"/>
<line x1="1264.69" y1="123.6" x2="1280.13" y2="123.6" stroke="#404040" stroke-width="1.3"/>
<line x1="1287.85" y1="501.1" x2="1287.85" y2="563.3" stroke="#404040" stroke-width="1.3"/>
<line x1="1287.85" y1="687.3" x2="1287.85" y2="748.5" stroke="#404040" stroke-width="1.3"/>
<line x1="1283.99" y1="501.1" x2="1291.71" y2="501.1" stroke="#404040" stroke-width="1.3"/>
<line x1="1283.99" y1="748.5" x2="1291.71" y2="748.5" stroke="#404040" stroke-width="1.3"/>
<rect x="1280.29" y="563.3" width="15.13" height="124.00" fill="#95b695" stroke="#404040" stroke-width="1.3"/>
<line x1="1280.29" y1="625.5" x2="1295.42" y2="625.5" stroke="#404040" stroke-width="1.3"/>
<line x1="1303.29" y1="436.3" x2="1303.29" y2="537.4" stroke="#404040" stroke-width="1.3"/>
<line x1="1303.29" y1="738.1" x2="1303.29" y2="837.8" stroke="#404040" stroke-width="1.3"/>
<line x1="1299.43" y1="436.3" x2="1307.15" y2="436.3" stroke="#404040" stroke-width="1.3"/>
<line x1="1299.43" y1="837.8" x2="1307.15" y2="837.8" stroke="#404040" stroke-width="1.3"/>
<rect x="1295.73" y="537.4" width="15.13" height="200.70" fill="#f7c8d0" stroke="#404040" stroke-width="1.3"/>
<line x1="1295.73" y1="637.1" x2="1310.86" y2="637.1" stroke="#404040" stroke-width="1.3"/>
<line x1="1311.01" y1="841.7" x2="1326.45" y2="841.7" stroke="#404040" stroke-width="1.3"/>
<line x1="1361.20" y1="455.3" x2="1361.20" y2="457.8" stroke="#404040" stroke-width="1.3"/>
<line x1="1361.20" y1="487.0" x2="1361.20" y2="510.9" stroke="#404040" stroke-width="1.3"/>
<line x1="1357.34" y1="455.3" x2="1365.06" y2="455.3" stroke="#404040" stroke-width="1.3"/>
<line x1="1357.34" y1="510.9" x2="1365.06" y2="510.9" stroke="#404040" stroke-width="1.3"/>
<rect x="1353.63" y="457.8" width="15.13" height="29.20" fill="#a03434" stroke="#404040" stroke-width="1.3"/>
<line x1="1353.63" y1="483.0" x2="1368.76" y2="483.0" stroke="#404040" stroke-width="1.3"/>
<line x1="1376.64" y1="291.0" x2="1376.64" y2="416.2" stroke="#404040" stroke-width="1.3"/>
<line x1="1376.64" y1="577.2" x2="1376.64" y2="754.3" stroke="#404040" stroke-width="1.3"/>
<line x1="1372.78" y1="291.0" x2="1380.50" y2="291.0" stroke="#404040" stroke-width="1.3"/>
<line x1="1372.78" y1="754.3" x2="1380.50" y2="754.3" stroke="#404040" stroke-width="1.3"/>
<rect x="1369.07" y="416.2" width="15.13" height="161.00" fill="#20dfdf" stroke="#404040" stroke-width="1.3"/>
<line x1="1369.07" y1="489.0" x2="1384.20" y2="489.0" stroke="#404040" stroke-width="1.3"/>
<line x1="1392.08" y1="345.0" x2="1392.08" y2="427.9" stroke="#404040" stroke-width="1.3"/>
<line x1="1392.08" y1="495.5" x2="1392.08" y2="558.4" stroke="#404040" stroke-width="1.3"/>
<line x1="1388.22" y1="345.0" x2="1395.94" y2="345.0" stroke="#404040" stroke-width="1.3"/>
<line x1="1388.22" y1="558.4" x2="1395.94" y2="558.4" stroke="#404040" stroke-width="1.3"/>
<rect x="1384.51" y="427.9" width="15.13" height="67.60" fill="#7468be" stroke="#404040" stroke-width="1.3"/>
<line x1="1384.51" y1="476.2" x2="1399.64" y2="476.2" stroke="#404040" stroke-width="1.3"/>
<line x1="1407.52" y1="195.8" x2="1407.52" y2="367.3" stroke="#404040" stroke-width="1.3"/>
<line x1="1407.52" y1="497.6" x2="1407.52" y2="595.7" stroke="#404040" stroke-width="1.3"/>
<line x1="1403.66" y1="195.8" x2="1411.38" y2="195.8" stroke="#404040" stroke-width="1.3"/>
<line x1="1403.66" y1="595.7" x2="1411.38" y2="595.7" stroke="#404040" stroke-width="1.3"/>
<rect x="1399.95" y="367.3" width="15.13" height="130.30" fill="#df20df" stroke="#404040" stroke-width="1.3"/>
<line x1="1399.95" y1="436.9" x2="1415.08" y2="436.9" stroke="#404040" stroke-width="1.3"/>
<line x1="1422.96" y1="450.6" x2="1422.96" y2="471.5" stroke="#404040" stroke-width="1.3"/>
<line x1="1422.96" y1="486.3" x2="1422.96" y2="497.9" stroke="#404040" stroke-width="1.3"/>
<line x1="1419.10" y1="450.6" x2="1426.82" y2="450.6" stroke="#404040" stroke-width="1.3"/>
<line x1="1419.10" y1="497.9" x2="1426.82" y2="497.9" stroke="#404040" stroke-width="1.3"/>
<rect x="1415.39" y="471.5" width="15.13" height="14.80" fill="#95b695" stroke="#404040" stroke-width="1.3"/>
<line x1="1415.39" y1="480.0" x2="1430.52" y2="480.0" stroke="#404040" stroke-width="1.3"/>
<line x1="1438.40" y1="457.5" x2="1438.40" y2="471.0" stroke="#404040" stroke-width="1.3"/>
<line x1="1438.40" y1="483.5" x2="1438.40" y2="492.2" stroke="#404040" stroke-width="1.3"/>
<line x1="1434.54" y1="457.5" x2="1442.26" y2="457.5" stroke="#404040" stroke-width="1.3"/>
<line x1="1434.54" y1="492.2" x2="1442.26" y2="492.2" stroke="#404040" stroke-width="1.3"/>
<rect x="1430.83" y="471.0" width="15.13" height="12.50" fill="#f7c8d0" stroke="#404040" stroke-width="1.3"/>
<line x1="1430.83" y1="479.0" x2="1445.97" y2="479.0" stroke="#404040" stroke-width="1.3"/>
<line x1="1453.84" y1="271.2" x2="1453.84" y2="357.4" stroke="#404040" stroke-width="1.3"/>
<line x1="1453.84" y1="479.0" x2="1453.84" y2="502.0" stroke="#404040" stroke-width="1.3"/>
<line x1="1449.98" y1="271.2" x2="1457.70" y2="271.2" stroke="#404040" stroke-width="1.3"/>
<line x1="1449.98" y1="502.0" x2="1457.70" y2="502.0" stroke="#404040" stroke-width="1.3"/>
<rect x="1446.27" y="357.4" width="15.13" height="121.60" fill="#e8e8f8" stroke="#404040" stroke-width="1.3"/>
<line x1="1446.27" y1="432.7" x2="1461.41" y2="432.7" stroke="#404040" stroke-width="1.3"/>
<line x1="1496.30" y1="270.7" x2="1496.30" y2="409.5" stroke="#404040" stroke-width="1.3"/>
<line x1="1496.30" y1="538.5" x2="1496.30" y2="693.8" stroke="#404040" stroke-width="1.3"/>
<line x1="1492.44" y1="270.7" x2="1500.16" y2="270.7" stroke="#404040" stroke-width="1.3"/>
<line x1="1492.44" y1="693.8" x2="1500.16" y2="693.8" stroke="#404040" stroke-width="1.3"/>
<rect x="1488.74" y="409.5" width="15.13" height="129.00" fill="#a03434" stroke="#404040" stroke-width="1.3"/>
<line x1="1488.74" y1="486.0" x2="1503.87" y2="486.0" stroke="#404040" stroke-width="1.3"/>
<line x1="1511.74" y1="83.2" x2="1511.74" y2="285.3" stroke="#404040" stroke-width="1.3"/>
<line x1="1511.74" y1="447.0" x2="1511.74" y2="661.7" stroke="#404040" stroke-width="1.3"/>
<line x1="1507.88" y1="83.2" x2="1515.60" y2="83.2" stroke="#404040" stroke-width="1.3"/>
<line x1="1507.88" y1="661.7" x2="1515.60" y2="661.7" stroke="#404040" stroke-width="1.3"/>
<rect x="1504.18" y="285.3" width="15.13" height="161.70" fill="#20dfdf" stroke="#404040" stroke-width="1.3"/>
<line x1="1504.18" y1="352.9" x2="1519.31" y2="352.9" stroke="#404040" stroke-width="1.3"/>
<line x1="1527.18" y1="247.8" x2="1527.18" y2="399.4" stroke="#404040" stroke-width="1.3"/>
<line x1="1527.18" y1="510.0" x2="1527.18" y2="628.0" stroke="#404040" stroke-width="1.3"/>
<line x1="1523.32" y1="247.8" x2="1531.04" y2="247.8" stroke="#404040" stroke-width="1.3"/>
<line x1="1523.32" y1="628.0" x2="1531.04" y2="628.0" stroke="#404040" stroke-width="1.3"/>
<rect x="1519.62" y="399.4" width="15.13" height="110.60" fill="#7468be" stroke="#404040" stroke-width="1.3"/>
<line x1="1519.62" y1="455.4" x2="1534.75" y2="455.4" stroke="#404040" stroke-width="1.3"/>
<line x1="1542.62" y1="233.9" x2="1542.62" y2="450.5" stroke="#404040" stroke-width="1.3"/>
<line x1="1542.62" y1="596.6" x2="1542.62" y2="745.6" stroke="#404040" stroke-width="1.3"/>
<line x1="1538.76" y1="233.9" x2="1546.49" y2="233.9" stroke="#404040" stroke-width="1.3"/>
<line x1="1538.76" y1="745.6" x2="1546.49" y2="745.6" stroke="#404040" stroke-width="1.3"/>
<rect x="1535.06" y="450.5" width="15.13" height="146.10" fill="#df20df" stroke="#404040" stroke-width="1.3"/>
<line x1="1535.06" y1="528.6" x2="1550.19" y2="528.6" stroke="#404040" stroke-width="1.3"/>
<line x1="1558.07" y1="432.7" x2="1558.07" y2="476.8" stroke="#404040" stroke-width="1.3"/>
<line x1="1558.07" y1="538.1" x2="1558.07" y2="621.6" stroke="#404040" stroke-width="1.3"/>
<line x1="1554.21" y1="432.7" x2="1561.93" y2="432.7" stroke="#404040" stroke-width="1.3"/>
<line x1="1554.21" y1="621.6" x2="1561.93" y2="621.6" stroke="#404040" stroke-width="1.3"/>
<rect x="1550.50" y="476.8" width="15.13" height="61.30" fill="#95b695" stroke="#404040" stroke-width="1.3"/>
<line x1="1550.50" y1="500.2" x2="1565.63" y2="500.2" stroke="#404040" stroke-width="1.3"/>
<line x1="1573.51" y1="269.7" x2="1573.51" y2="400.6" stroke="#404040" stroke-width="1.3"/>
<line x1="1573.51" y1="519.0" x2="1573.51" y2="664.6" stroke="#404040" stroke-width="1.3"/>
<line x1="1569.65" y1="269.7" x2="1577.37" y2="269.7" stroke="#404040" stroke-width="1.3"/>
<line x1="1569.65" y1="664.6" x2="1577.37" y2="664.6" stroke="#404040" stroke-width="1.3"/>
<rect x="1565.94" y="400.6" width="15.13" height="118.40" fill="#f7c8d0" stroke="#404040" stroke-width="1.3"/>
<line x1="1565.94" y1="460.8" x2="1581.07" y2="460.8" stroke="#404040" stroke-width="1.3"/>
<line x1="1588.95" y1="158.1" x2="1588.95" y2="282.6" stroke="#404040" stroke-width="1.3"/>
<line x1="1588.95" y1="402.9" x2="1588.95" y2="536.8" stroke="#404040" stroke-width="1.3"/>
<line x1="1585.09" y1="158.1" x2="1592.81" y2="158.1" stroke="#404040" stroke-width="1.3"/>
<line x1="1585.09" y1="536.8" x2="1592.81" y2="536.8" stroke="#404040" stroke-width="1.3"/>
<rect x="1581.38" y="282.6" width="15.13" height="120.30" fill="#e8e8f8" stroke="#404040" stroke-width="1.3"/>
<line x1="1581.38" y1="345.6" x2="1596.51" y2="345.6" stroke="#404040" stroke-width="1.3"/>
<line x1="1631.41" y1="265.7" x2="1631.41" y2="426.6" stroke="#404040" stroke-width="1.3"/>
<line x1="1631.41" y1="536.4" x2="1631.41" y2="692.1" stroke="#404040" stroke-width="1.3"/>
<line x1="1627.55" y1="265.7" x2="1635.27" y2="265.7" stroke="#404040" stroke-width="1.3"/>
<line x1="1627.55" y1="692.1" x2="1635.27" y2="692.1" stroke="#404040" stroke-width="1.3"/>
<rect x="1623.84" y="426.6" width="15.13" height="109.80" fill="#a03434" stroke="#404040" stroke-width="1.3"/>
<line x1="1623.84" y1="483.0" x2="1638.98" y2="483.0" stroke="#404040" stroke-width="1.3"/>
<line x1="1646.85" y1="322.1" x2="1646.85" y2="418.3" stroke="#404040" stroke-width="1.3"/>
<line x1="1646.85" y1="548.4" x2="1646.85" y2="734.2" stroke="#404040" stroke-width="1.3"/>
<line x1="1642.99" y1="322.1" x2="1650.71" y2="322.1" stroke="#404040" stroke-width="1.3"/>
<line x1="1642.99" y1="734.2" x2="1650.71" y2="734.2" stroke="#404040" stroke-width="1.3"/>
<rect x="1639.28" y="418.3" width="15.13" height="130.10" fill="#20dfdf" stroke="#404040" stroke-width="1.3"/>
<line x1="1639.28" y1="480.8" x2="1654.42" y2="480.8" stroke="#404040" stroke-width="1.3"/>
<line x1="1662.29" y1="291.2" x2="1662.29" y2="391.3" stroke="#404040" stroke-width="1.3"/>
<line x1="1662.29" y1="474.8" x2="1662.29" y2="586.0" stroke="#404040" stroke-width="1.3"/>
<line x1="1658.43" y1="291.2" x2="1666.15" y2="291.2" stroke="#404040" stroke-width="1.3"/>
<line x1="1658.43" y1="586.0" x2="1666.15" y2="586.0" stroke="#404040" stroke-width="1.3"/>
<rect x="1654.73" y="391.3" width="15.13" height="83.50" fill="#7468be" stroke="#404040" stroke-width="1.3"/>
<line x1="1654.73" y1="432.5" x2="1669.86" y2="432.5" stroke="#404040" stroke-width="1.3"/>
<line x1="1677.73" y1="296.2" x2="1677.73" y2="404.6" stroke="#404040" stroke-width="1.3"/>
<line x1="1677.73" y1="487.4" x2="1677.73" y2="597.9" stroke="#404040" stroke-width="1.3"/>
<line x1="1673.87" y1="296.2" x2="1681.59" y2="296.2" stroke="#404040" stroke-width="1.3"/>
<line x1="1673.87" y1="597.9" x2="1681.59" y2="597.9" stroke="#404040" stroke-width="1.3"/>
<rect x="1670.17" y="404.6" width="15.13" height="82.80" fill="#df20df" stroke="#404040" stroke-width="1.3"/>
<line x1="1670.17" y1="453.5" x2="1685.30" y2="453.5" stroke="#404040" stroke-width="1.3"/>
<line x1="1693.17" y1="348.6" x2="1693.17" y2="446.1" stroke="#404040" stroke-width="1.3"/>
<line x1="1693.17" y1="543.2" x2="1693.17" y2="621.9" stroke="#404040" stroke-width="1.3"/>
<line x1="1689.31" y1="348.6" x2="1697.03" y2="348.6" stroke="#404040" stroke-width="1.3"/>
<line x1="1689.31" y1="621.9" x2="1697.03" y2="621.9" stroke="#404040" stroke-width="1.3"/>
<rect x="1685.61" y="446.1" width="15.13" height="97.10" fill="#95b695" stroke="#404040" stroke-width="1.3"/>
<line x1="1685.61" y1="487.4" x2="1700.74" y2="487.4" stroke="#404040" stroke-width="1.3"/>
<line x1="1708.61" y1="287.6" x2="1708.61" y2="426.0" stroke="#404040" stroke-width="1.3"/>
<line x1="1708.61" y1="522.8" x2="1708.61" y2="665.6" stroke="#404040" stroke-width="1.3"/>
<line x1="1704.75" y1="287.6" x2="1712.47" y2="287.6" stroke="#404040" stroke-width="1.3"/>
<line x1="1704.75" y1="665.6" x2="1712.47" y2="665.6" stroke="#404040" stroke-width="1.3"/>
<rect x="1701.05" y="426.0" width="15.13" height="96.80" fill="#f7c8d0" stroke="#404040" stroke-width="1.3"/>
<line x1="1701.05" y1="459.5" x2="1716.18" y2="459.5" stroke="#404040" stroke-width="1.3"/>
<line x1="1724.05" y1="227.3" x2="1724.05" y2="382.0" stroke="#404040" stroke-width="1.3"/>
<line x1="1724.05" y1="500.2" x2="1724.05" y2="652.3" stroke="#404040" stroke-width="1.3"/>
<line x1="1720.19" y1="227.3" x2="1727.91" y2="227.3" stroke="#404040" stroke-width="1.3"/>
<line x1="1720.19" y1="652.3" x2="1727.91" y2="652.3" stroke="#404040" stroke-width="1.3"/>
<rect x="1716.49" y="382.0" width="15.13" height="118.20" fill="#e8e8f8" stroke="#404040" stroke-width="1.3"/>
<line x1="1716.49" y1="438.3" x2="1731.62" y2="438.3" stroke="#404040" stroke-width="1.3"/>
<line x1="1766.52" y1="298.9" x2="1766.52" y2="404.5" stroke="#404040" stroke-width="1.3"/>
<line x1="1766.52" y1="491.4" x2="1766.52" y2="580.6" stroke="#404040" stroke-width="1.3"/>
<line x1="1762.66" y1="298.9" x2="1770.38" y2="298.9" stroke="#404040" stroke-width="1.3"/>
<line x1="1762.66" y1="580.6" x2="1770.38" y2="580.6" stroke="#404040" stroke-width="1.3"/>
<rect x="1758.95" y="404.5" width="15.13" height="86.90" fill="#a03434" stroke="#404040" stroke-width="1.3"/>
<line x1="1758.95" y1="461.9" x2="1774.08" y2="461.9" stroke="#404040" stroke-width="1.3"/>
<line x1="1781.96" y1="276.0" x2="1781.96" y2="416.5" stroke="#404040" stroke-width="1.3"/>
<line x1="1781.96" y1="537.2" x2="1781.96" y2="642.7" stroke="#404040" stroke-width="1.3"/>
<line x1="1778.10" y1="276.0" x2="1785.82" y2="276.0" stroke="#404040" stroke-width="1.3"/>
<line x1="1778.10" y1="642.7" x2="1785.82" y2="642.7" stroke="#404040" stroke-width="1.3"/>
<rect x="1774.39" y="416.5" width="15.13" height="120.70" fill="#20dfdf" stroke="#404040" stroke-width="1.3"/>
<line x1="1774.39" y1="476.7" x2="1789.52" y2="476.7" stroke="#404040" stroke-width="1.3"/>
<line x1="1797.40" y1="137.9" x2="1797.40" y2="343.6" stroke="#404040" stroke-width="1.3"/>
<line x1="1797.40" y1="495.8" x2="1797.40" y2="659.6" stroke="#404040" stroke-width="1.3"/>
<line x1="1793.54" y1="137.9" x2="1801.26" y2="137.9" stroke="#404040" stroke-width="1.3"/>
<line x1="1793.54" y1="659.6" x2="1801.26" y2="659.6" stroke="#404040" stroke-width="1.3"/>
<rect x="1789.83" y="343.6" width="15.13" height="152.20" fill="#7468be" stroke="#404040" stroke-width="1.3"/>
<line x1="1789.83" y1="432.4" x2="1804.96" y2="432.4" stroke="#404040" stroke-width="1.3"/>
<line x1="1812.84" y1="200.5" x2="1812.84" y2="358.8" stroke="#404040" stroke-width="1.3"/>
<line x1="1812.84" y1="491.4" x2="1812.84" y2="601.3" stroke="#404040" stroke-width="1.3"/>
<line x1="1808.98" y1="200.5" x2="1816.70" y2="200.5" stroke="#404040" stroke-width="1.3"/>
<line x1="1808.98" y1="601.3" x2="1816.70" y2="601.3" stroke="#404040" stroke-width="1.3"/>
<rect x="1805.27" y="358.8" width="15.13" height="132.60" fill="#df20df" stroke="#404040" stroke-width="1.3"/>
<line x1="1805.27" y1="449.3" x2="1820.41" y2="449.3" stroke="#404040" stroke-width="1.3"/>
<line x1="1828.28" y1="313.8" x2="1828.28" y2="418.5" stroke="#404040" stroke-width="1.3"/>
<line x1="1828.28" y1="505.0" x2="1828.28" y2="623.0" stroke="#404040" stroke-width="1.3"/>
<line x1="1824.42" y1="313.8" x2="1832.14" y2="313.8" stroke="#404040" stroke-width="1.3"/>
<line x1="1824.42" y1="623.0" x2="1832.14" y2="623.0" stroke="#404040" stroke-width="1.3"/>
<rect x="1820.71" y="418.5" width="15.13" height="86.50" fill="#95b695" stroke="#404040" stroke-width="1.3"/>
<line x1="1820.71" y1="470.2" x2="1835.85" y2="470.2" stroke="#404040" stroke-width="1.3"/>
<line x1="1843.72" y1="401.9" x2="1843.72" y2="445.3" stroke="#404040" stroke-width="1.3"/>
<line x1="1843.72" y1="482.9" x2="1843.72" y2="537.5" stroke="#404040" stroke-width="1.3"/>
<line x1="1839.86" y1="401.9" x2="1847.58" y2="401.9" stroke="#404040" stroke-width="1.3"/>
<line x1="1839.86" y1="537.5" x2="1847.58" y2="537.5" stroke="#404040" stroke-width="1.3"/>
<rect x="1836.15" y="445.3" width="15.13" height="37.60" fill="#f7c8d0" stroke="#404040" stroke-width="1.3"/>
<line x1="1836.15" y1="472.6" x2="1851.29" y2="472.6" stroke="#404040" stroke-width="1.3"/>
<line x1="1859.16" y1="315.8" x2="1859.16" y2="416.8" stroke="#404040" stroke-width="1.3"/>
<line x1="1859.16" y1="498.2" x2="1859.16" y2="557.9" stroke="#404040" stroke-width="1.3"/>
<line x1="1855.30" y1="315.8" x2="1863.02" y2="315.8" stroke="#404040" stroke-width="1.3"/>
<line x1="1855.30" y1="557.9" x2="1863.02" y2="557.9" stroke="#404040" stroke-width="1.3"/>
<rect x="1851.60" y="416.8" width="15.13" height="81.40" fill="#e8e8f8" stroke="#404040" stroke-width="1.3"/>
<line x1="1851.60" y1="483.0" x2="1866.73" y2="483.0" stroke="#404040" stroke-width="1.3"/>
<line x1="1901.62" y1="105.4" x2="1901.62" y2="197.2" stroke="#404040" stroke-width="1.3"/>
<line x1="1901.62" y1="382.0" x2="1901.62" y2="473.7" stroke="#404040" stroke-width="1.3"/>
<line x1="1897.76" y1="105.4" x2="1905.48" y2="105.4" stroke="#404040" stroke-width="1.3"/>
<line x1="1897.76" y1="473.7" x2="1905.48" y2="473.7" stroke="#404040" stroke-width="1.3"/>
<rect x="1894.06" y="197.2" width="15.13" height="184.80" fill="#a03434" stroke="#404040" stroke-width="1.3"/>
<line x1="1894.06" y1="288.6" x2="1909.19" y2="288.6" stroke="#404040" stroke-width="1.3"/>
<line x1="1917.06" y1="177.6" x2="1917.06" y2="352.5" stroke="#404040" stroke-width="1.3"/>
<line x1="1917.06" y1="702.0" x2="1917.06" y2="876.7" stroke="#404040" stroke-width="1.3"/>
<line x1="1913.20" y1="177.6" x2="1920.93" y2="177.6" stroke="#404040" stroke-width="1.3"/>
<line x1="1913.20" y1="876.7" x2="1920.93" y2="876.7" stroke="#404040" stroke-width="1.3"/>
<rect x="1909.50" y="352.5" width="15.13" height="349.50" fill="#20dfdf" stroke="#404040" stroke-width="1.3"/>
<line x1="1909.50" y1="527.3" x2="1924.63" y2="527.3" stroke="#404040" stroke-width="1.3"/>
<line x1="1924.79" y1="841.8" x2="1940.23" y2="841.8" stroke="#404040" stroke-width="1.3"/>
<line x1="1940.23" y1="841.8" x2="1955.67" y2="841.8" stroke="#404040" stroke-width="1.3"/>
<line x1="1963.39" y1="96.8" x2="1963.39" y2="231.3" stroke="#404040" stroke-width="1.3"/>
<line x1="1963.39" y1="500.2" x2="1963.39" y2="634.9" stroke="#404040" stroke-width="1.3"/>
<line x1="1959.53" y1="96.8" x2="1967.25" y2="96.8" stroke="#404040" stroke-width="1.3"/>
<line x1="1959.53" y1="634.9" x2="1967.25" y2="634.9" stroke="#404040" stroke-width="1.3"/>
<rect x="1955.82" y="231.3" width="15.13" height="268.90" fill="#95b695" stroke="#404040" stroke-width="1.3"/>
<line x1="1955.82" y1="365.8" x2="1970.95" y2="365.8" stroke="#404040" stroke-width="1.3"/>
<line x1="1978.83" y1="99.1" x2="1978.83" y2="221.7" stroke="#404040" stroke-width="1.3"/>
<line x1="1978.83" y1="464.7" x2="1978.83" y2="587.7" stroke="#404040" stroke-width="1.3"/>
<line x1="1974.97" y1="99.1" x2="1982.69" y2="99.1" stroke="#404040" stroke-width="1.3"/>
<line x1="1974.97" y1="587.7" x2="1982.69" y2="587.7" stroke="#404040" stroke-width="1.3"/>
<rect x="1971.26" y="221.7" width="15.13" height="243.00" fill="#f7c8d0" stroke="#404040" stroke-width="1.3"/>
<line x1="1971.26" y1="343.3" x2="1986.39" y2="343.3" stroke="#404040" stroke-width="1.3"/>
<line x1="1994.27" y1="222.7" x2="1994.27" y2="385.3" stroke="#404040" stroke-width="1.3"/>
<line x1="1994.27" y1="711.9" x2="1994.27" y2="874.7" stroke="#404040" stroke-width="1.3"/>
<line x1="1990.41" y1="222.7" x2="1998.13" y2="222.7" stroke="#404040" stroke-width="1.3"/>
<line x1="1990.41" y1="874.7" x2="1998.13" y2="874.7" stroke="#404040" stroke-width="1.3"/>
<rect x="1986.70" y="385.3" width="15.13" height="326.60" fill="#e8e8f8" stroke="#404040" stroke-width="1.3"/>
<line x1="1986.70" y1="548.4" x2="2001.83" y2="548.4" stroke="#404040" stroke-width="1.3"/>
<line x1="124.0" y1="482.9" x2="2015.5" y2="482.9" stroke="#000" stroke-width="2.1" stroke-dasharray="7.1,3.31"/>
<line x1="124.3" y1="0" x2="124.3" y2="890" stroke="#2e2e2e" stroke-width="2.0"/>
<line x1="2015.5" y1="0" x2="2015.5" y2="768" stroke="#2e2e2e" stroke-width="2.0"/>
<line x1="124.0" y1="0.6" x2="2015.5" y2="0.6" stroke="#333" stroke-width="1.8"/>
<line x1="124.0" y1="768" x2="124.0" y2="1018" stroke="#000" stroke-width="2"/>
<line x1="2015.5" y1="768" x2="2015.5" y2="1018" stroke="#000" stroke-width="2"/>
<line x1="0" y1="766.8" x2="124.0" y2="766.8" stroke="#000" stroke-width="3.4"/>
<line x1="2015.5" y1="769.0" x2="2109.5" y2="769.0" stroke="#000" stroke-width="3.6"/>
<line x1="113" y1="1006.0" x2="2025" y2="1006.0" stroke="#000" stroke-width="2.0"/>
<line x1="114.5" y1="1006.0" x2="124.0" y2="1006.0" stroke="#000" stroke-width="2"/>
<text x="106" y="1015.0" font-family="DejaVu Sans, Liberation Sans, sans-serif" font-size="24.6" fill="#000" stroke="#000" text-anchor="end">0</text>
<line x1="114.5" y1="932.0" x2="124.0" y2="932.0" stroke="#000" stroke-width="2"/>
<text x="106" y="941.0" font-family="DejaVu Sans, Liberation Sans, sans-serif" font-size="24.6" fill="#000" stroke="#000" text-anchor="end">100</text>
<line x1="114.5" y1="857.9" x2="124.0" y2="857.9" stroke="#000" stroke-width="2"/>
<text x="106" y="866.9" font-family="DejaVu Sans, Liberation Sans, sans-serif" font-size="24.6" fill="#000" stroke="#000" text-anchor="end">200</text>
<line x1="114.5" y1="783.7" x2="124.0" y2="783.7" stroke="#000" stroke-width="2"/>
<text x="106" y="792.7" font-family="DejaVu Sans, Liberation Sans, sans-serif" font-size="24.6" fill="#000" stroke="#000" text-anchor="end">300</text>
<line x1="2015.5" y1="1005.1" x2="2024.5" y2="1005.1" stroke="#000" stroke-width="2"/>
<text x="2032" y="1014.1" font-family="DejaVu Sans, Liberation Sans, sans-serif" font-size="24.6" fill="#000" stroke="#000">0.0</text>
<line x1="2015.5" y1="952.9" x2="2024.5" y2="952.9" stroke="#000" stroke-width="2"/>
<text x="2032" y="961.9" font-family="DejaVu Sans, Liberation Sans, sans-serif" font-size="24.6" fill="#000" stroke="#000">0.1</text>
<line x1="2015.5" y1="900.7" x2="2024.5" y2="900.7" stroke="#000" stroke-width="2"/>
<text x="2032" y="909.7" font-family="DejaVu Sans, Liberation Sans, sans-serif" font-size="24.6" fill="#000" stroke="#000">0.2</text>
<line x1="2015.5" y1="848.5" x2="2024.5" y2="848.5" stroke="#000" stroke-width="2"/>
<text x="2032" y="857.5" font-family="DejaVu Sans, Liberation Sans, sans-serif" font-size="24.6" fill="#000" stroke="#000">0.3</text>
<line x1="2015.5" y1="796.4" x2="2024.5" y2="796.4" stroke="#000" stroke-width="2"/>
<text x="2032" y="805.4" font-family="DejaVu Sans, Liberation Sans, sans-serif" font-size="24.6" fill="#000" stroke="#000">0.4</text>
<text x="105.3" y="133.1" font-family="DejaVu Sans, Liberation Sans, sans-serif" font-size="21.6" fill="#262626" stroke="#262626" text-anchor="end">1.0</text>
<text x="105.3" y="312.2" font-family="DejaVu Sans, Liberation Sans, sans-serif" font-size="21.6" fill="#262626" stroke="#262626" text-anchor="end">0.5</text>
<text x="105.3" y="491.3" font-family="DejaVu Sans, Liberation Sans, sans-serif" font-size="21.6" fill="#262626" stroke="#262626" text-anchor="end">0.0</text>
<text x="105.3" y="670.4" font-family="DejaVu Sans, Liberation Sans, sans-serif" font-size="21.6" fill="#262626" stroke="#262626" text-anchor="end">−0.5</text>
<text transform="translate(39.9,463.2) rotate(-90)" font-family="DejaVu Sans, Liberation Sans, sans-serif" font-size="23.2" fill="#262626" stroke="#262626" text-anchor="middle">Scaled Difference (iNaturalist - sPlotOpen)</text>
<text transform="translate(44.2,891.9) rotate(-90)" font-family="DejaVu Sans, Liberation Sans, sans-serif" font-size="27.9" fill="#e00000" stroke="#e00000" text-anchor="middle">sample size</text>
<text transform="translate(2106.5,893.5) rotate(-90)" font-family="DejaVu Sans, Liberation Sans, sans-serif" font-size="27.7" fill="#8a8ab2" stroke="#8a8ab2" text-anchor="middle">iNat obs. per km<tspan font-size="19" dy="-9">2</tspan></text>
<text x="1082.6" y="1297.3" font-family="DejaVu Sans, Liberation Sans, sans-serif" font-size="23.6" fill="#262626" stroke="#262626" text-anchor="middle">Biome</text>
<text transform="translate(182.2,1031.7) rotate(-50.0)" font-family="DejaVu Sans, Liberation Sans, sans-serif" font-size="21.4" fill="#262626" stroke="#262626" text-anchor="end"><tspan x="-8.5" y="0.0">Tropical and subtropical</tspan><tspan x="0" y="24.6">moist broadleaf forests</tspan></text>
<text transform="translate(317.3,1031.7) rotate(-50.0)" font-family="DejaVu Sans, Liberation Sans, sans-serif" font-size="21.4" fill="#262626" stroke="#262626" text-anchor="end"><tspan x="-8.5" y="0.0">Tropical and subtropical</tspan><tspan x="0" y="24.6">dry broadleaf forests</tspan></text>
<text transform="translate(452.4,1031.7) rotate(-50.0)" font-family="DejaVu Sans, Liberation Sans, sans-serif" font-size="21.4" fill="#262626" stroke="#262626" text-anchor="end"><tspan x="-8.5" y="0.0">Tropical and subtropical</tspan><tspan x="0" y="24.6">coniferous forests</tspan></text>
<text transform="translate(587.5,1031.7) rotate(-50.0)" font-family="DejaVu Sans, Liberation Sans, sans-serif" font-size="21.4" fill="#262626" stroke="#262626" text-anchor="end"><tspan x="-8.5" y="0.0">Temperate broadleaf</tspan><tspan x="0" y="24.6">and mixed forests</tspan></text>
<text transform="translate(739.9,1031.7) rotate(-50.0)" font-family="DejaVu Sans, Liberation Sans, sans-serif" font-size="21.4" fill="#262626" stroke="#262626" text-anchor="end"><tspan x="0" y="0.0">Temperate Coniferous Forest</tspan></text>
<text transform="translate(875.1,1031.7) rotate(-50.0)" font-family="DejaVu Sans, Liberation Sans, sans-serif" font-size="21.4" fill="#262626" stroke="#262626" text-anchor="end"><tspan x="0" y="0.0">Boreal forests / Taiga</tspan></text>
<text transform="translate(974.0,1031.7) rotate(-50.0)" font-family="DejaVu Sans, Liberation Sans, sans-serif" font-size="21.4" fill="#262626" stroke="#262626" text-anchor="end"><tspan x="-8.5" y="0.0">Tropical and subtropical</tspan><tspan x="-8.5" y="24.6">grasslands, savannas</tspan><tspan x="0" y="49.2">and shrublands</tspan></text>
<text transform="translate(1127.9,1031.7) rotate(-50.0)" font-family="DejaVu Sans, Liberation Sans, sans-serif" font-size="21.4" fill="#262626" stroke="#262626" text-anchor="end"><tspan x="-8.5" y="0.0">Temperate grasslands,</tspan><tspan x="0" y="24.6">savannas and shrublands</tspan></text>
<text transform="translate(1263.0,1031.7) rotate(-50.0)" font-family="DejaVu Sans, Liberation Sans, sans-serif" font-size="21.4" fill="#262626" stroke="#262626" text-anchor="end"><tspan x="-8.5" y="0.0">Flooded grasslands</tspan><tspan x="0" y="24.6">and savannas</tspan></text>
<text transform="translate(1398.1,1031.7) rotate(-50.0)" font-family="DejaVu Sans, Liberation Sans, sans-serif" font-size="21.4" fill="#262626" stroke="#262626" text-anchor="end"><tspan x="-8.5" y="0.0">Montane grasslands</tspan><tspan x="0" y="24.6">and shrublands</tspan></text>
<text transform="translate(1550.6,1031.7) rotate(-50.0)" font-family="DejaVu Sans, Liberation Sans, sans-serif" font-size="21.4" fill="#262626" stroke="#262626" text-anchor="end"><tspan x="0" y="0.0">Tundra</tspan></text>
<text transform="translate(1668.4,1031.7) rotate(-50.0)" font-family="DejaVu Sans, Liberation Sans, sans-serif" font-size="21.4" fill="#262626" stroke="#262626" text-anchor="end"><tspan x="-8.5" y="0.0">Mediterranean Forests,</tspan><tspan x="0" y="24.6">woodlands and shrubs</tspan></text>
<text transform="translate(1803.5,1031.7) rotate(-50.0)" font-family="DejaVu Sans, Liberation Sans, sans-serif" font-size="21.4" fill="#262626" stroke="#262626" text-anchor="end"><tspan x="-8.5" y="0.0">Deserts and</tspan><tspan x="0" y="24.6">xeric shrublands</tspan></text>
<text transform="translate(1955.9,1031.7) rotate(-50.0)" font-family="DejaVu Sans, Liberation Sans, sans-serif" font-size="21.4" fill="#262626" stroke="#262626" text-anchor="end"><tspan x="0" y="0.0">Mangroves</tspan></text>
<rect x="135.6" y="10.8" width="1660" height="38.3" rx="3" ry="3" fill="#ffffff" fill-opacity="0.8" stroke="#d6d6d6" stroke-width="1.4"/>
<rect x="143.3" y="22.2" width="44" height="14.8" fill="#a03434" stroke="#404040" stroke-width="1"/>
<text x="204.8" y="37.2" font-family="DejaVu Sans, Liberation Sans, sans-serif" font-size="21.35" fill="#262626" stroke="#262626">Leaf Area</text>
<rect x="349.0" y="22.2" width="44" height="14.8" fill="#20dfdf" stroke="#404040" stroke-width="1"/>
<text x="409.6" y="37.2" font-family="DejaVu Sans, Liberation Sans, sans-serif" font-size="21.35" fill="#262626" stroke="#262626">SLA</text>
<rect x="494.0" y="22.2" width="44" height="14.8" fill="#7468be" stroke="#404040" stroke-width="1"/>
<text x="555.3" y="37.2" font-family="DejaVu Sans, Liberation Sans, sans-serif" font-size="21.35" fill="#262626" stroke="#262626">Leaf fresh mass</text>
<rect x="767.6" y="22.2" width="44" height="14.8" fill="#df20df" stroke="#404040" stroke-width="1"/>
<text x="828.6" y="37.2" font-family="DejaVu Sans, Liberation Sans, sans-serif" font-size="21.35" fill="#262626" stroke="#262626">Leaf N per area</text>
<rect x="1037.8" y="22.2" width="44" height="14.8" fill="#95b695" stroke="#404040" stroke-width="1"/>
<text x="1098.4" y="37.2" font-family="DejaVu Sans, Liberation Sans, sans-serif" font-size="21.35" fill="#262626" stroke="#262626">Plant Height</text>
<rect x="1274.1" y="22.2" width="44" height="14.8" fill="#f7c8d0" stroke="#404040" stroke-width="1"/>
<text x="1334.8" y="37.2" font-family="DejaVu Sans, Liberation Sans, sans-serif" font-size="21.35" fill="#262626" stroke="#262626">Seed mass</text>
<rect x="1495.5" y="22.2" width="44" height="14.8" fill="#e8e8f8" stroke="#404040" stroke-width="1"/>
<text x="1556.2" y="37.2" font-family="DejaVu Sans, Liberation Sans, sans-serif" font-size="21.35" fill="#262626" stroke="#262626">Stem conduit density</text>
</svg>
</body></html>
